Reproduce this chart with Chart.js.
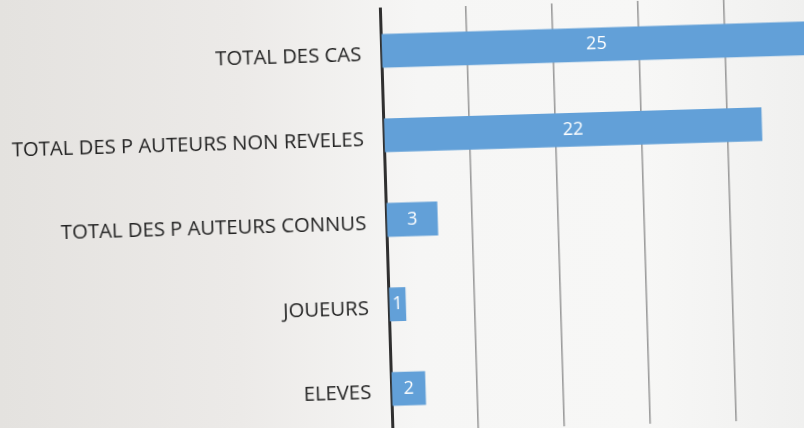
<!DOCTYPE html>
<html>
<head>
<meta charset="utf-8">
<script src="https://cdn.jsdelivr.net/npm/chart.js@4/dist/chart.umd.min.js"></script>
<style>
  html, body { margin: 0; padding: 0; width: 804px; height: 428px; overflow: hidden;
    background: linear-gradient(90deg, #e4e2df 0%, #eceae8 30%, #f6f6f5 52%, #f7f7f6 80%, #f0f0ef 100%); }
  #wrap { position: absolute; left: -13px; top: -6px; width: 830px; height: 440px;
    transform: rotate(-1.7deg); transform-origin: 50% 50%; }
  canvas { display: block; }
</style>
</head>
<body>
<div id="wrap"><canvas id="c" width="830" height="440"></canvas></div>
<script>
const categories = [
  "TOTAL DES CAS",
  "TOTAL DES P AUTEURS NON REVELES",
  "TOTAL DES P AUTEURS CONNUS",
  "JOUEURS",
  "ELEVES"
];
const values = [25, 22, 3, 1, 2];
const xTicks = [0, 5, 10, 15, 20, 25];

const valueLabels = {
  id: 'valueLabels',
  afterDatasetsDraw(chart) {
    const ctx = chart.ctx;
    const meta = chart.getDatasetMeta(0);
    ctx.save();
    ctx.fillStyle = '#ffffff';
    ctx.font = '18px "Open Sans", "DejaVu Sans", sans-serif';
    ctx.textAlign = 'center';
    ctx.textBaseline = 'middle';
    meta.data.forEach((bar, i) => {
      const p = bar.getProps(['x', 'y', 'base'], true);
      ctx.fillText(String(values[i]), (p.x + p.base) / 2, p.y);
    });
    ctx.restore();
  }
};

new Chart(document.getElementById('c'), {
  type: 'bar',
  data: {
    labels: categories,
    datasets: [{
      data: values,
      backgroundColor: '#62a0d8',
      borderWidth: 0,
      barPercentage: 0.4,
      categoryPercentage: 1.0
    }]
  },
  plugins: [valueLabels],
  options: {
    indexAxis: 'y',
    responsive: false,
    animation: false,
    layout: { padding: { top: 14, right: 1, bottom: 3, left: 0 } },
    plugins: { legend: { display: false }, tooltip: { enabled: false } },
    scales: {
      x: {
        min: 0, max: 25,
        afterBuildTicks(scale) { scale.ticks = xTicks.map(v => ({ value: v })); },
        afterFit(scale) { scale.height = 0; scale.paddingLeft = 0; scale.paddingRight = 0; },
        ticks: { display: false },
        grid: { color: '#9c9c9c', lineWidth: 1.6, drawTicks: false },
        border: { display: false }
      },
      y: {
        afterFit(scale) { scale.width = 399; scale.paddingTop = 0; scale.paddingBottom = 0; },
        ticks: {
          color: '#232323',
          font: { family: '"Open Sans", "DejaVu Sans", sans-serif', size: 20.3 },
          padding: 20,
          labelOffset: 4
        },
        grid: { display: false, drawTicks: false },
        border: { display: true, color: '#2f2f2f', width: 3 }
      }
    }
  }
});
</script>
</body>
</html>
